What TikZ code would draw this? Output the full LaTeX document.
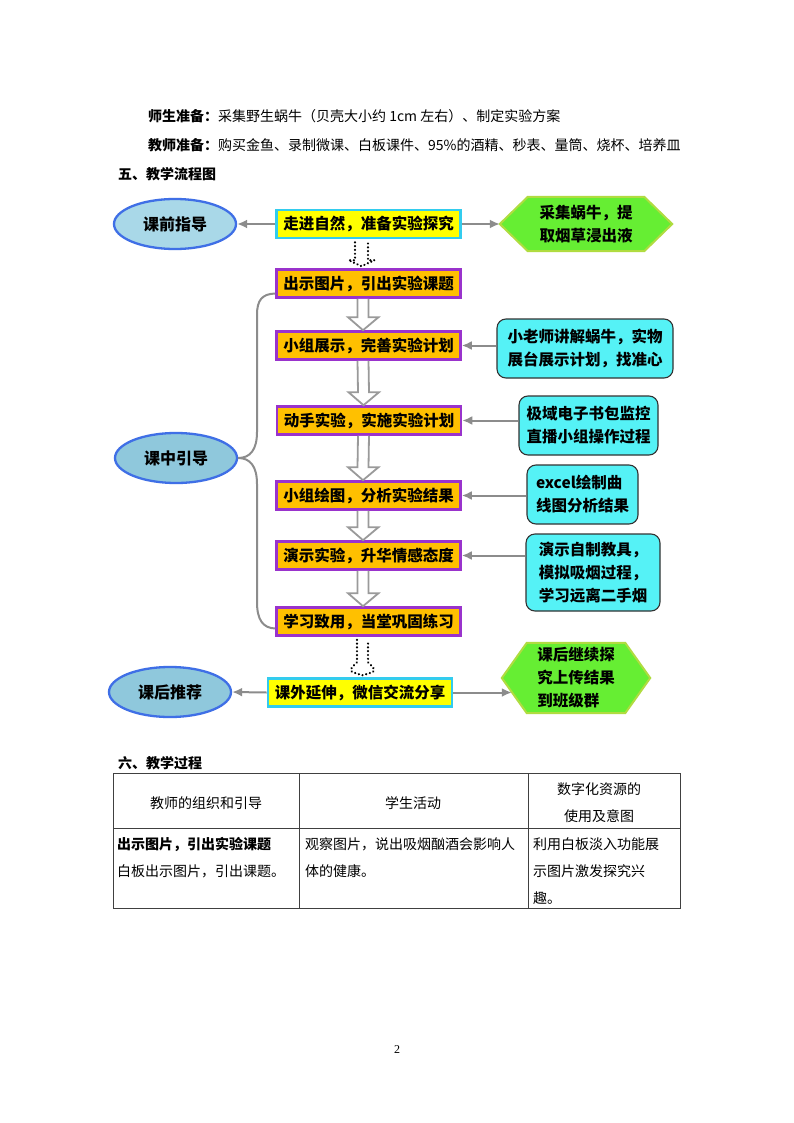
\documentclass[tikz,border=0pt]{standalone}
\usepackage{fontspec}
\setmainfont{Noto Sans CJK SC}
\newfontfamily\pagenumfont{Liberation Serif}
\usetikzlibrary{calc,arrows.meta,shapes.geometric}
\definecolor{ellA}{HTML}{A9D8E8}
\definecolor{ellB}{HTML}{8FC8DC}
\definecolor{ellBorder}{HTML}{3F6FE6}
\definecolor{ybox}{HTML}{FFFF00}
\definecolor{ycyan}{HTML}{33CCEE}
\definecolor{obox}{HTML}{FFC000}
\definecolor{opurple}{HTML}{9933CC}
\definecolor{hexfill}{HTML}{66EE33}
\definecolor{hexborder}{HTML}{B0DC40}
\definecolor{cyanbox}{HTML}{55F2F6}
\definecolor{arrgray}{HTML}{8C8C8C}
\definecolor{hollowgray}{HTML}{9A9A9A}
\newcommand{\harrow}[2]{%
  \draw[hollow] ($(#1.south)+(-11,0)$) -- ($(#2.north)+(-11,-13)$) -- ($(#2.north)+(-20.5,-13)$) -- ($(#2.north)+(-5.5,0)$) -- ($(#2.north)+(10,-13)$) -- ($(#2.north)+(0,-13)$) -- ($(#1.south)+(0,0)$);}
\begin{document}
\begin{tikzpicture}[x=1pt,y=-1pt,
  ftext/.style={font=\fontsize{15.5}{23}\selectfont\bfseries},
  ellnode/.style={ellipse, draw=ellBorder, line width=2.3pt, minimum width=122, minimum height=50, inner sep=0pt, font=\fontsize{16}{19}\selectfont\bfseries},
  ybx/.style={rectangle, draw=ycyan, fill=ybox, line width=2.6pt, minimum width=184, minimum height=28, inner sep=0pt, ftext},
  obx/.style={rectangle, draw=opurple, fill=obox, line width=2.6pt, minimum width=184, minimum height=28, inner sep=0pt, ftext},
  cbx/.style={rectangle, rounded corners=9pt, draw=black!80, fill=cyanbox, line width=1.1pt, inner sep=0pt, align=left, ftext},
  hexnode/.style={inner sep=0pt, ftext},
  hexdraw/.style={fill=hexfill, draw=hexborder, line width=2pt},
  garrow/.style={draw=arrgray, line width=2pt, -{Latex[length=10pt,width=9pt]}},
  brace/.style={draw=arrgray, line width=2pt},
  hollow/.style={draw=hollowgray, fill=white, line width=1.8pt, line join=miter},
  dotarr/.style={draw=black, line width=2.4pt, line cap=round, dash pattern=on 0.01pt off 3.8pt},
  body/.style={font=\fontsize{14}{17}\selectfont, inner sep=0pt, anchor=west},
  tline/.style={draw=black!75, line width=0.9pt}
]
\useasboundingbox[fill=white] (0,0) rectangle (794,1123);

% header texts
\node[body] (t1) at (148,116) {{\bfseries 师生准备：}采集野生蜗牛（贝壳大小约 1cm 左右）、制定实验方案};
\node[body] (t2) at (148,145) {{\bfseries 教师准备：}购买金鱼、录制微课、白板课件、95\%的酒精、秒表、量筒、烧杯、培养皿};
\node[body, font=\fontsize{14}{17}\selectfont\bfseries] (t3) at (118,174) {五、教学流程图};

% hexagons
\node[hexnode, minimum width=172, minimum height=54] (h1) at (586,224) {};
\node[hexnode, minimum width=148, minimum height=70] (h2) at (576,678) {};
\draw[hexdraw] (h1.west) -- ($(h1.north west)+(28,0)$) -- ($(h1.north east)+(-28,0)$) -- (h1.east) -- ($(h1.south east)+(-28,0)$) -- ($(h1.south west)+(28,0)$) -- cycle;
\draw[hexdraw] (h2.west) -- ($(h2.north west)+(25,0)$) -- ($(h2.north east)+(-25,0)$) -- (h2.east) -- ($(h2.south east)+(-25,0)$) -- ($(h2.south west)+(25,0)$) -- cycle;
\node[hexnode, align=center] (h1t) at (h1) {采集蜗牛，提\\取烟草浸出液};
\node[hexnode, align=left] (h2t) at (h2) {课后继续探\\究上传结果\\到班级群};

% ellipses
\node[ellnode, fill=ellA] (e1) at (175,224) {课前指导};
\node[ellnode, fill=ellB] (e2) at (176,458) {课中引导};
\node[ellnode, fill=ellB] (e3) at (170,692) {课后推荐};

% main boxes
\node[ybx] (b1) at (368.5,224) {走进自然，准备实验探究};
\node[obx] (b2) at (368.5,283.5) {出示图片，引出实验课题};
\node[obx] (b3) at (368.5,345.5) {小组展示，完善实验计划};
\node[obx] (b4) at (369,420.5) {动手实验，实施实验计划};
\node[obx] (b5) at (368.5,495.5) {小组绘图，分析实验结果};
\node[obx] (b6) at (368.5,555.5) {演示实验，升华情感态度};
\node[obx] (b7) at (368.5,621.5) {学习致用，当堂巩固练习};
\node[ybx] (b8) at (360,692.5) {课外延伸，微信交流分享};

% cyan boxes
\node[cbx, minimum width=176, minimum height=59] (c1) at (585,348.5) {小老师讲解蜗牛，实物\\展台展示计划，找准心};
\node[cbx, minimum width=139, minimum height=59] (c2) at (588.5,425.5) {极域电子书包监控\\直播小组操作过程};
\node[cbx, minimum width=111, minimum height=59] (c3) at (582.5,494.5) {excel绘制曲\\线图分析结果};
\node[cbx, minimum width=134, minimum height=77] (c4) at (593,572.5) {演示自制教具，\\模拟吸烟过程，\\学习远离二手烟};

% gray arrows
\draw[garrow] (b1.west) -- (e1.east);
\draw[garrow] (b1.east) -- (h1.west);
\draw[garrow] (b8.west) -- (e3.east);
\draw[garrow] (b8.east) -- ($(b8.east -| h2.west)+(10,0)$);
\draw[garrow] (c1.west |- b3.east) -- (b3.east);
\draw[garrow] (c2.west |- b4.east) -- (b4.east);
\draw[garrow] (c3.west |- b5.east) -- (b5.east);
\draw[garrow] (c4.west |- b6.east) -- (b6.east);

% brace lines
\draw[brace] ($(b2.west)+(0,10)$) .. controls (262,294) and (257,300) .. (257,315) -- (257,432) .. controls (257,450) and (250,458) .. (e2.east);
\draw[brace] (e2.east) .. controls (250,458) and (257,466) .. (257,484) -- (257,602) .. controls (257,620) and (263,628) .. ($(b7.west)+(0,7)$);

% hollow arrows
\harrow{b2}{b3}
\harrow{b3}{b4}
\harrow{b4}{b5}
\harrow{b5}{b6}
\harrow{b6}{b7}

% dotted arrows
\draw[dotarr] ($(b1.south)+(-13.5,3)$) -- ($(b2.north)+(-13.5,-8)$) -- ($(b2.north)+(-20,-8)$) -- ($(b2.north)+(-7,-2)$) -- ($(b2.north)+(6,-8)$) -- ($(b2.north)+(-0.5,-8)$) -- ($(b1.south)+(-0.5,3)$);
\draw[dotarr] ($(b7.south)+(-11.5,3)$) -- ($(b8.north)+(-3,-15)$) .. controls ($(b8.north)+(-12,-6)$) .. ($(b8.north)+(2.5,-2)$) .. controls ($(b8.north)+(17,-6)$) .. ($(b8.north)+(8,-15)$) -- ($(b7.south)+(-0.5,3)$);

% section 6
\node[body, font=\fontsize{14}{17}\selectfont\bfseries] (t4) at (118,763) {六、教学过程};
\draw[tline] (113,773) rectangle (680,908);
\draw[tline] (299,773) -- (299,908);
\draw[tline] (528,773) -- (528,908);
\draw[tline] (113,828) -- (680,828);
\node[body, anchor=center] (th1) at (206,803) {教师的组织和引导};
\node[body, anchor=center] (th2) at (413,803) {学生活动};
\node[body, anchor=center] (th3) at (599,789) {数字化资源的};
\node[body, anchor=center] (th4) at (599,816) {使用及意图};
\node[body, font=\fontsize{14}{17}\selectfont\bfseries] (r1) at (117,844) {出示图片，引出实验课题};
\node[body] (r2) at (117,871) {白板出示图片，引出课题。};
\node[body] (r3) at (305,844) {观察图片，说出吸烟酗酒会影响人};
\node[body] (r4) at (305,871) {体的健康。};
\node[body] (r5) at (533,844) {利用白板淡入功能展};
\node[body] (r6) at (533,871) {示图片激发探究兴};
\node[body] (r7) at (533,898) {趣。};

\node[font=\pagenumfont\fontsize{12}{14}\selectfont] (pg) at (397,1050) {2};
\end{tikzpicture}
\end{document}
